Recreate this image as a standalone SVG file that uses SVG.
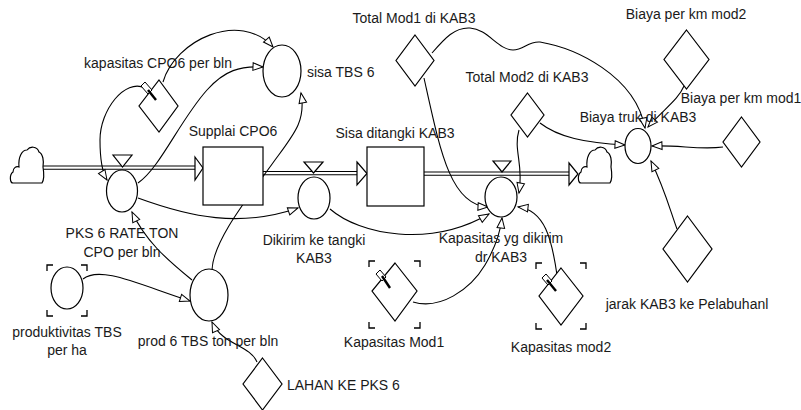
<svg xmlns="http://www.w3.org/2000/svg" width="801" height="410" viewBox="0 0 801 410">
<defs>
<style>
text{font-family:"Liberation Sans",Arial,sans-serif;font-size:14px;fill:#1a1a1a}
.c{text-anchor:middle}
.s{fill:#fff;stroke:#000;stroke-width:1.2}
.ln{fill:none;stroke:#000;stroke-width:1.1}
.pipe{fill:none;stroke:#000;stroke-width:1.1}
.br{fill:none;stroke:#000;stroke-width:1.3}
.mk{fill:#fff;stroke:#000;stroke-width:1}
.mt{stroke:#000;stroke-width:2.4}
</style>
<marker id="a" markerUnits="userSpaceOnUse" markerWidth="12" markerHeight="10" refX="10" refY="3.8" orient="auto" overflow="visible">
<path d="M0,0 L10,3.8 L0,7.6 Z" fill="#fff" stroke="#000" stroke-width="1"/>
</marker>
<path id="cloud" d="M3,38 C0,38 -1,30 3,27 C3,23 6,21 9,22 C8,12 12,5 17,5 C20,1 27,1 29,7 C33,9 34,16 33,22 C34,28 34,35 32,38 Z"/>
</defs>
<rect width="801" height="410" fill="#fff"/>

<g id="connectors">
<g id="flows">
<line class="pipe" x1="43" y1="166" x2="196" y2="166"/>
<line class="pipe" x1="43" y1="169.3" x2="196" y2="169.3"/>
<polygon class="s" points="195,157 203,168 195,180"/>
<line class="pipe" x1="263" y1="171.5" x2="358" y2="171.5"/>
<line class="pipe" x1="263" y1="174.7" x2="358" y2="174.7"/>
<polygon class="s" points="357,162 367,173.5 357,185"/>
<line class="pipe" x1="424" y1="172" x2="570" y2="172"/>
<line class="pipe" x1="424" y1="175.2" x2="570" y2="175.2"/>
<polygon class="s" points="569,163 578,174 569,185"/>
</g>
<path class="ln" marker-end="url(#a)" d="M163,82 C175,40 240,10 273,47"/>
<path class="ln" marker-end="url(#a)" d="M138,183 C160,168 180,120 207,90 C225,70 240,66 263,67"/>
<path class="ln" marker-end="url(#a)" d="M212,270 C213,240 250,195 275,160 C295,133 306,120 301,93"/>
<path class="ln" marker-end="url(#a)" d="M145,88 C125,78 100,110 100,140 C100,160 102,172 107,180"/>
<path class="ln" marker-end="url(#a)" d="M138,198 C190,217 240,228 298,208"/>
<path class="ln" marker-end="url(#a)" d="M192,280 C165,258 145,240 132,212"/>
<path class="ln" marker-end="url(#a)" d="M83,279 C100,265 140,285 190,301"/>
<path class="ln" marker-end="url(#a)" d="M257,362 C250,345 222,345 212,322"/>
<path class="ln" marker-end="url(#a)" d="M330,209 C360,235 430,248 489,214"/>
<path class="ln" marker-end="url(#a)" d="M424,78 C440,150 450,205 488,207"/>
<path class="ln" marker-end="url(#a)" d="M432,53 C445,38 455,27 470,28 C488,29 498,50 513,50 C524,50 528,41 540,42 C575,48 635,75 645,128"/>
<path class="ln" marker-end="url(#a)" d="M519,130 C513,150 524,165 519,193"/>
<path class="ln" marker-end="url(#a)" d="M540,123 C558,137 585,143 625,145"/>
<path class="ln" marker-end="url(#a)" d="M413,302 C440,310 470,290 485,265 C495,248 500,235 502,218"/>
<path class="ln" marker-end="url(#a)" d="M557,275 C552,240 545,210 518,207"/>
<path class="ln" marker-end="url(#a)" d="M723,147 C700,150 680,145 652,146"/>
<path class="ln" marker-end="url(#a)" d="M684,86 C678,100 665,108 648,127"/>
<path class="ln" marker-end="url(#a)" d="M677,229 C670,210 665,190 651,161"/>
</g>

<g id="cloud-source"><use href="#cloud" x="10" y="145" class="s"/></g>
<g id="cloud-sink"><use href="#cloud" x="578" y="145" class="s"/></g>

<g id="supplai-cpo6">
<rect class="s" x="203" y="147" width="60" height="58"/>
<text class="c" x="233" y="136">Supplai CPO6</text>
</g>
<g id="sisa-ditangki-kab3">
<rect class="s" x="367" y="147" width="57" height="59"/>
<text class="c" x="395" y="138">Sisa ditangki KAB3</text>
</g>

<g id="pks6-rate">
<polygon class="s" points="113,155 132,155 122.5,167"/>
<ellipse class="s" cx="122" cy="191" rx="15.5" ry="21"/>
<text class="c" x="122" y="238">PKS 6 RATE TON</text>
<text class="c" x="122" y="257">CPO per bln</text>
</g>
<g id="dikirim">
<polygon class="s" points="304,162 323,162 313.5,173"/>
<ellipse class="s" cx="314" cy="198" rx="16" ry="21"/>
<text class="c" x="314" y="245">Dikirim ke tangki</text>
<text class="c" x="314" y="263">KAB3</text>
</g>
<g id="kapasitas-dikirim">
<polygon class="s" points="493,161 511,161 502,172"/>
<ellipse class="s" cx="501" cy="197" rx="16" ry="20"/>
<text class="c" x="501" y="243">Kapasitas yg dikirim</text>
<text class="c" x="501" y="262">dr KAB3</text>
</g>

<g id="sisa-tbs6">
<ellipse class="s" cx="282" cy="71" rx="19" ry="26"/>
<text x="307" y="77">sisa TBS 6</text>
</g>
<g id="prod6">
<ellipse class="s" cx="209" cy="295" rx="19" ry="26"/>
<text class="c" x="208" y="346">prod 6 TBS ton per bln</text>
</g>
<g id="produktivitas">
<ellipse class="s" cx="67" cy="288" rx="16" ry="21"/>
<path class="br" d="M47,271 V265 H53 M81,265 H87 V271 M47,310 V316 H53 M81,316 H87 V310"/>
<text class="c" x="67" y="337">produktivitas TBS</text>
<text class="c" x="67" y="355">per ha</text>
</g>
<g id="biaya-truk">
<ellipse class="s" cx="638" cy="146" rx="13" ry="17.5"/>
<text class="c" x="638" y="122">Biaya truk di KAB3</text>
</g>

<g id="kapasitas-cpo6">
<polygon class="s" points="159,80 178,106 159,132 139,106"/>
<polygon class="mk" points="141,86 145,82 152,90 148,94"/>
<line class="mt" x1="148" y1="90" x2="156" y2="100"/>
<text class="c" x="158" y="68">kapasitas CPO6 per bln</text>
</g>
<g id="total-mod1">
<polygon class="s" points="415,35 434,60.5 415,86 396,60.5"/>
<text class="c" x="414" y="23">Total Mod1 di KAB3</text>
</g>
<g id="total-mod2">
<polygon class="s" points="527.5,93 544,115 527.5,137 511,115"/>
<text class="c" x="527" y="82">Total Mod2 di KAB3</text>
</g>
<g id="biaya-mod2">
<polygon class="s" points="686.5,30 709,59.5 686.5,89 664,59.5"/>
<text class="c" x="686" y="19">Biaya per km mod2</text>
</g>
<g id="biaya-mod1">
<polygon class="s" points="741.5,117 760,142 741.5,167 723,142"/>
<text class="c" x="741" y="103">Biaya per km mod1</text>
</g>
<g id="jarak">
<polygon class="s" points="687.5,216 712,249 687.5,282 663,249"/>
<text class="c" x="687" y="309">jarak KAB3 ke Pelabuhanl</text>
</g>
<g id="kapasitas-mod1">
<polygon class="s" points="395,263 417,291 395,321 372,291"/>
<path class="br" d="M369,267 V261 H375 M414,261 H420 V267 M369,322 V328 H375 M414,328 H420 V322"/>
<polygon class="mk" points="376,274 380,270 386,277 382,281"/>
<line class="mt" x1="382" y1="276" x2="390" y2="288"/>
<text class="c" x="394" y="347">Kapasitas Mod1</text>
</g>
<g id="kapasitas-mod2">
<polygon class="s" points="561,268 583,296 561,325 539,296"/>
<path class="br" d="M536,269 V263 H542 M580,263 H586 V269 M536,323 V329 H542 M580,329 H586 V323"/>
<polygon class="mk" points="542,278 546,274 552,281 548,285"/>
<line class="mt" x1="547" y1="280" x2="556" y2="291"/>
<text class="c" x="561" y="352">Kapasitas mod2</text>
</g>
<g id="lahan">
<polygon class="s" points="262.5,358 282,384 262.5,410 243,384"/>
<text x="287" y="390">LAHAN KE PKS 6</text>
</g>
</svg>
